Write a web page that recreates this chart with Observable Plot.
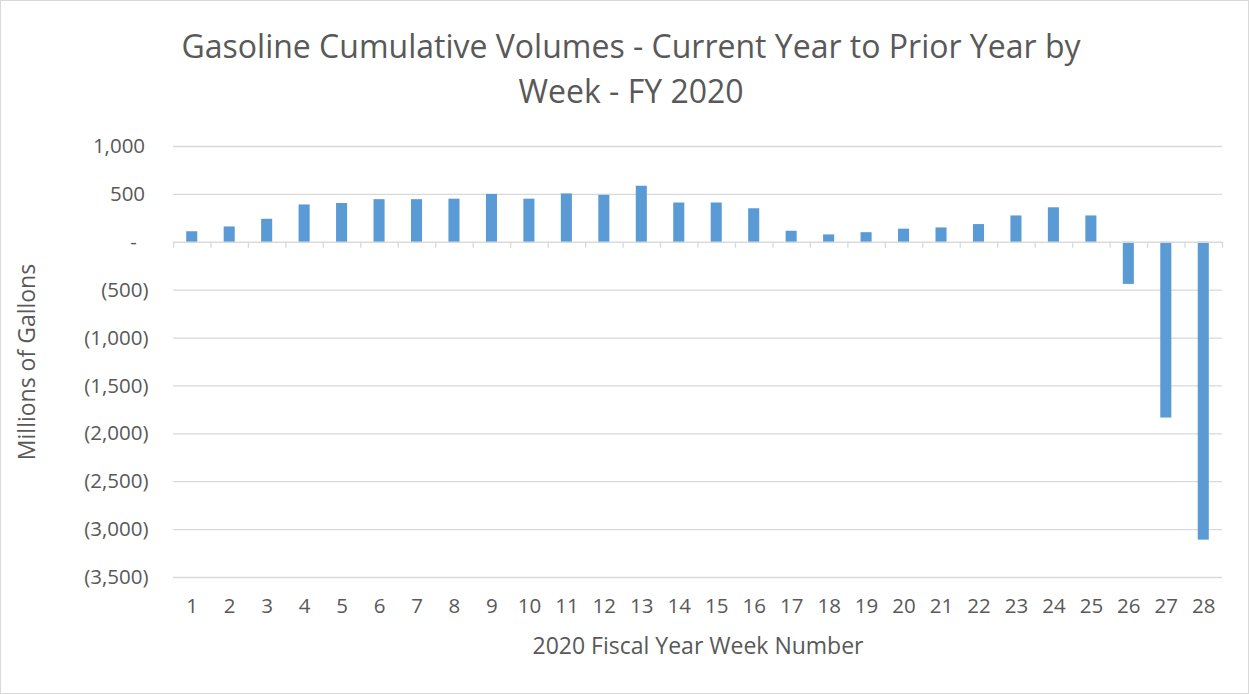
<!DOCTYPE html>
<html>
<head>
<meta charset="utf-8">
<script src="https://cdn.jsdelivr.net/npm/d3@7"></script>
<script src="https://cdn.jsdelivr.net/npm/@observablehq/plot@0.6"></script>
<style>
  html, body { margin: 0; padding: 0; background: #fff; }
  #chart { position: absolute; left: 0; top: 0; width: 1247px; height: 692px; border: 1px solid #d9d9d9; background: #fff; font-family: "Open Sans", sans-serif; color: #595959; }
  #title { position: absolute; left: 0; top: 22px; width: 1260px; text-align: center; font-size: 32px; line-height: 45px; color: #595959; }
  #plot { position: absolute; left: 0; top: 120px; }
</style>
</head>
<body>
<div id="chart">
  <div id="title">Gasoline Cumulative Volumes - Current Year to Prior Year by<br>Week - FY 2020</div>
  <div id="plot"></div>
</div>
<script>
const weeks = [1,2,3,4,5,6,7,8,9,10,11,12,13,14,15,16,17,18,19,20,21,22,23,24,25,26,27,28];
const volumes = [110,160,240,390,405,445,445,450,500,450,505,490,585,410,410,350,115,77,100,137,150,185,275,360,275,-440,-1835,-3110];
const yTicks = [1000,500,0,-500,-1000,-1500,-2000,-2500,-3000,-3500];
const xLabel = "2020 Fiscal Year Week Number";
const yLabel = "Millions of Gallons";

const data = weeks.map((w, i) => ({week: w, value: volumes[i]}));
const boundaries = [weeks[0] - 0.5, ...weeks.map(w => w + 0.5)];
const fmt = d3.format(",");
const yFormat = d => d === 0 ? "-\u2007" : d < 0 ? `(${fmt(-d)})` : fmt(d) + "\u2009";

const chart = Plot.plot({
  width: 1247,
  height: 572,
  marginLeft: 172,
  marginRight: 26,
  marginTop: 25,
  marginBottom: 116,
  style: {fontFamily: "Open Sans, sans-serif", fontSize: "20px", color: "#595959", background: "transparent"},
  x: {domain: [weeks[0] - 0.5, weeks[weeks.length - 1] + 0.5]},
  y: {domain: [yTicks[yTicks.length - 1], yTicks[0]]},
  marks: [
    Plot.gridY(yTicks, {stroke: "#d9d9d9", strokeOpacity: 1, strokeWidth: 1.3}),
    Plot.rectY(data, {x1: d => d.week - 0.5, x2: d => d.week + 0.5, y: "value", fill: "#5b9bd5", insetLeft: 13.2, insetRight: 13.2}),
    Plot.ruleY([0], {stroke: "#d9d9d9", strokeWidth: 1.3}),
    Plot.ruleX(boundaries, {x: d => d, y1: 0, y2: 0, insetBottom: -6, stroke: "#d9d9d9", strokeWidth: 1.3}),
    Plot.axisY(yTicks, {tickSize: 0, tickPadding: 25, tickFormat: yFormat, fill: "#595959", label: null, fontSize: 20.5}),
    Plot.axisX(weeks, {tickSize: 0, tickPadding: 21, tickFormat: d => String(d), fill: "#595959", label: null, fontSize: 20.5}),
    Plot.text([xLabel], {text: d => d, frameAnchor: "bottom", textAnchor: "middle", lineAnchor: "middle", dy: 69, fontSize: 23, fill: "#595959"}),
    Plot.text([yLabel], {text: d => d, frameAnchor: "left", textAnchor: "middle", lineAnchor: "middle", rotate: -90, dx: -146, fontSize: 23, fill: "#595959"})
  ]
});
document.getElementById("plot").appendChild(chart);
</script>
</body>
</html>
